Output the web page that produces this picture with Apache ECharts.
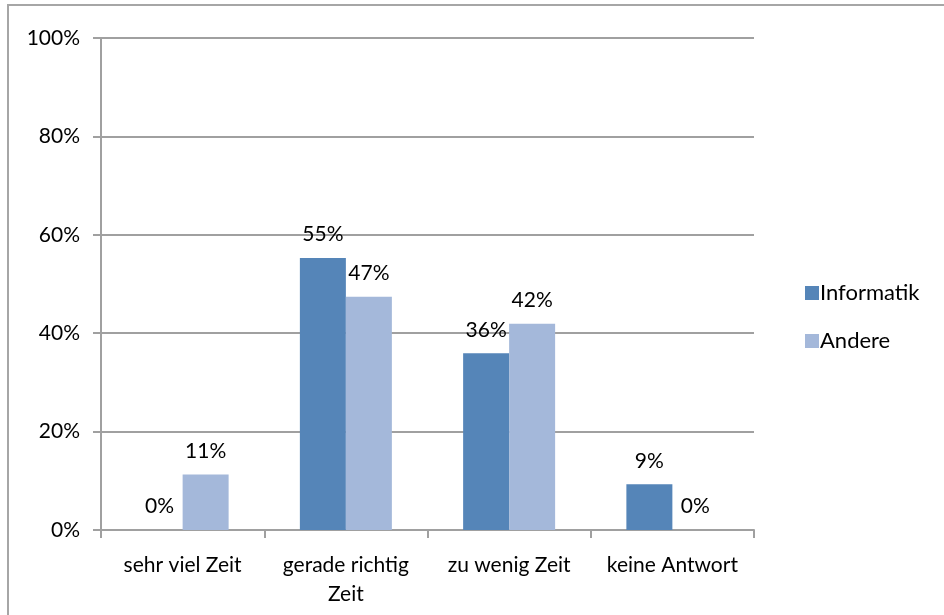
<!DOCTYPE html>
<html>
<head>
<meta charset="utf-8">
<script src="https://cdn.jsdelivr.net/npm/echarts@6/dist/echarts.min.js"></script>
<style>
  html, body { margin: 0; padding: 0; background: #fff; overflow: hidden; }
  #frame { position: absolute; left: 7px; top: 4px; width: 960px; height: 640px; border: 2px solid #a6a6a6; box-sizing: border-box; }
  #chart { position: absolute; left: 0; top: 0; width: 944px; height: 615px; }
</style>
</head>
<body>
<div id="frame"></div>
<div id="chart"></div>
<script>
const categories = ['sehr viel Zeit', 'gerade richtig\nZeit', 'zu wenig Zeit', 'keine Antwort']
const informatik = [0, 55.3, 35.9, 9.3]
const andere = [11.3, 47.4, 41.9, 0]
const yTicks = [0, 20, 40, 60, 80, 100]

const chart = echarts.init(document.getElementById('chart'))
const font = 'Lato'

const barLabel = {
  show: true,
  position: 'top',
  distance: 13,
  color: '#000',
  fontFamily: font,
  fontSize: 21,
  formatter: p => Math.round(p.value) + '%'
}

chart.setOption({
  animation: false,
  grid: { left: 101, right: 190, top: 38, bottom: 85 },
  legend: {
    orient: 'vertical',
    left: 800,
    top: 277,
    itemGap: 26,
    itemWidth: 14,
    itemHeight: 14,
    icon: 'rect',
    textStyle: { fontFamily: font, fontSize: 22, color: '#000', padding: [0, 0, 0, -4] },
    data: ['Informatik', 'Andere']
  },
  xAxis: {
    type: 'category',
    data: categories,
    axisLine: { lineStyle: { color: '#a0a0a0', width: 2 } },
    axisTick: { show: true, length: 8, lineStyle: { color: '#a0a0a0', width: 2 } },
    axisLabel: { interval: 0, color: '#000', fontFamily: font, fontSize: 21, margin: 21, lineHeight: 29 }
  },
  yAxis: {
    type: 'value',
    min: yTicks[0],
    max: yTicks[yTicks.length - 1],
    interval: 20,
    axisLine: { show: true, lineStyle: { color: '#a0a0a0', width: 2 } },
    axisTick: { show: true, length: 8, lineStyle: { color: '#a0a0a0', width: 2 } },
    splitLine: { lineStyle: { color: '#a0a0a0', width: 2 } },
    axisLabel: { color: '#000', fontFamily: font, fontSize: 21, margin: 21, formatter: '{value}%' }
  },
  series: [
    {
      name: 'Informatik',
      type: 'bar',
      data: informatik,
      barWidth: 46,
      barGap: 0,
      itemStyle: { color: '#5585b8' },
      label: barLabel
    },
    {
      name: 'Andere',
      type: 'bar',
      data: andere,
      barWidth: 46,
      barGap: 0,
      itemStyle: { color: '#a4b8da' },
      label: barLabel
    }
  ]
})
</script>
</body>
</html>
